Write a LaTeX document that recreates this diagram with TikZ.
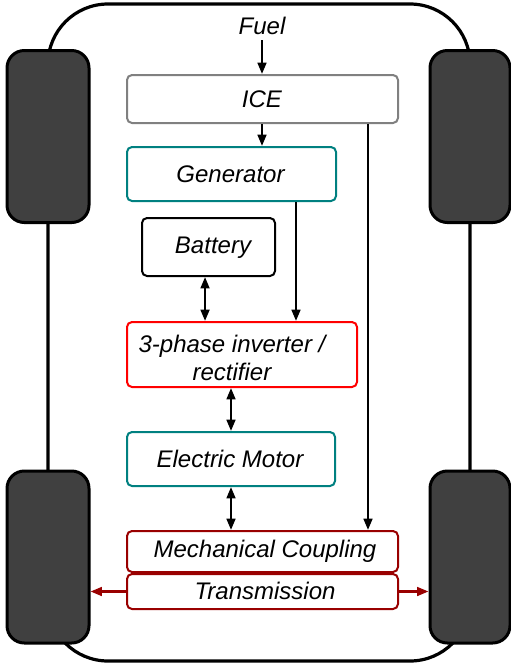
\documentclass[tikz,border=0pt]{standalone}
\usepackage{fontspec}
\setmainfont{Liberation Sans}
\usetikzlibrary{arrows.meta,calc}
\definecolor{tealc}{RGB}{0,128,128}
\definecolor{redc}{RGB}{255,0,0}
\definecolor{darkredc}{RGB}{153,0,0}
\definecolor{grayc}{RGB}{128,128,128}
\definecolor{wheelc}{RGB}{64,64,64}
\tikzset{
  box/.style={draw, line width=1.5pt, rounded corners=3.75pt, fill=white, inner sep=0pt},
  lbl/.style={font=\fontsize{18}{21}\selectfont\itshape, align=center, inner sep=0pt},
  wheel/.style={draw=black, line width=2.25pt, fill=wheelc, rounded corners=13pt, inner sep=0pt, minimum height=129pt},
  arr/.style={line width=1.8pt, -{Triangle[length=8.5pt,width=6.5pt]}},
  darr/.style={line width=1.8pt, {Triangle[length=8.5pt,width=6.5pt]}-{Triangle[length=8.5pt,width=6.5pt]}},
}
\begin{document}
\begin{tikzpicture}[x=0.75pt,y=-0.75pt]
\useasboundingbox (0,0) rectangle (511,665);
% car body
\draw[line width=2.4pt, rounded corners=45pt] (48,4) rectangle (470,661);
% wheels
\node[wheel, minimum width=61.5pt] (wl1) at (48,136.5) {};
\node[wheel, minimum width=61.5pt] (wl2) at (48,557) {};
\node[wheel, minimum width=60pt] (wr1) at (470,136.5) {};
\node[wheel, minimum width=60pt] (wr2) at (470,557) {};
% boxes
\node[box, draw=grayc, minimum width=203.25pt, minimum height=36pt] (ice) at (262.5,99) {};
\node[box, draw=tealc, minimum width=156.75pt, minimum height=40.5pt] (gen) at (231.5,174) {};
\node[box, draw=black, minimum width=99.75pt, minimum height=43.5pt] (bat) at (208.5,247) {};
\node[box, draw=redc, minimum width=172.5pt, minimum height=48.75pt] (inv) at (242,354.5) {};
\node[box, draw=tealc, minimum width=156pt, minimum height=40.5pt] (mot) at (231,459) {};
\node[box, draw=darkredc, minimum width=203.25pt, minimum height=30.75pt] (coup) at (262.5,551.5) {};
\node[box, draw=darkredc, minimum width=203.25pt, minimum height=26.25pt] (trans) at (262.5,591.5) {};
% labels
\node[lbl] (fuel) at (262,26) {Fuel};
\node[lbl] (iceT) at (262,99) {ICE};
\node[lbl] (genT) at (230.5,174) {Generator};
\node[lbl] (batT) at (213,248) {Battery};
\node[lbl] (invT) at (232,358) {3-phase inverter /\\rectifier};
\node[lbl] (motT) at (230,459) {Electric Motor};
\node[lbl] (coupT) at (265,551) {Mechanical Coupling};
\node[lbl] (transT) at (265,591) {Transmission};
% connectors
\draw[arr] ([yshift=-4pt]fuel.south) -- (ice.north -| fuel.south);
\draw[arr] (ice.south -| fuel.south) -- (gen.north -| fuel.south);
\coordinate (gline) at ([xshift=-30.75pt]gen.south east);
\draw[arr] (gline) -- (gline |- inv.north);
\coordinate (iline) at ([xshift=-23.25pt]ice.south east);
\draw[arr] (iline) -- (iline |- coup.north);
\coordinate (bline) at ([xshift=-2.6pt]bat.south);
\draw[darr] (bline) -- (bline |- inv.north);
\draw[darr] (mot.north |- inv.south) -- (mot.north);
\draw[darr] (mot.south) -- (mot.south |- coup.north);
\draw[arr, darkredc] (trans.west) -- (trans.west -| wl2.east);
\draw[arr, darkredc] (trans.east) -- (trans.east -| wr2.west);
\end{tikzpicture}
\end{document}
